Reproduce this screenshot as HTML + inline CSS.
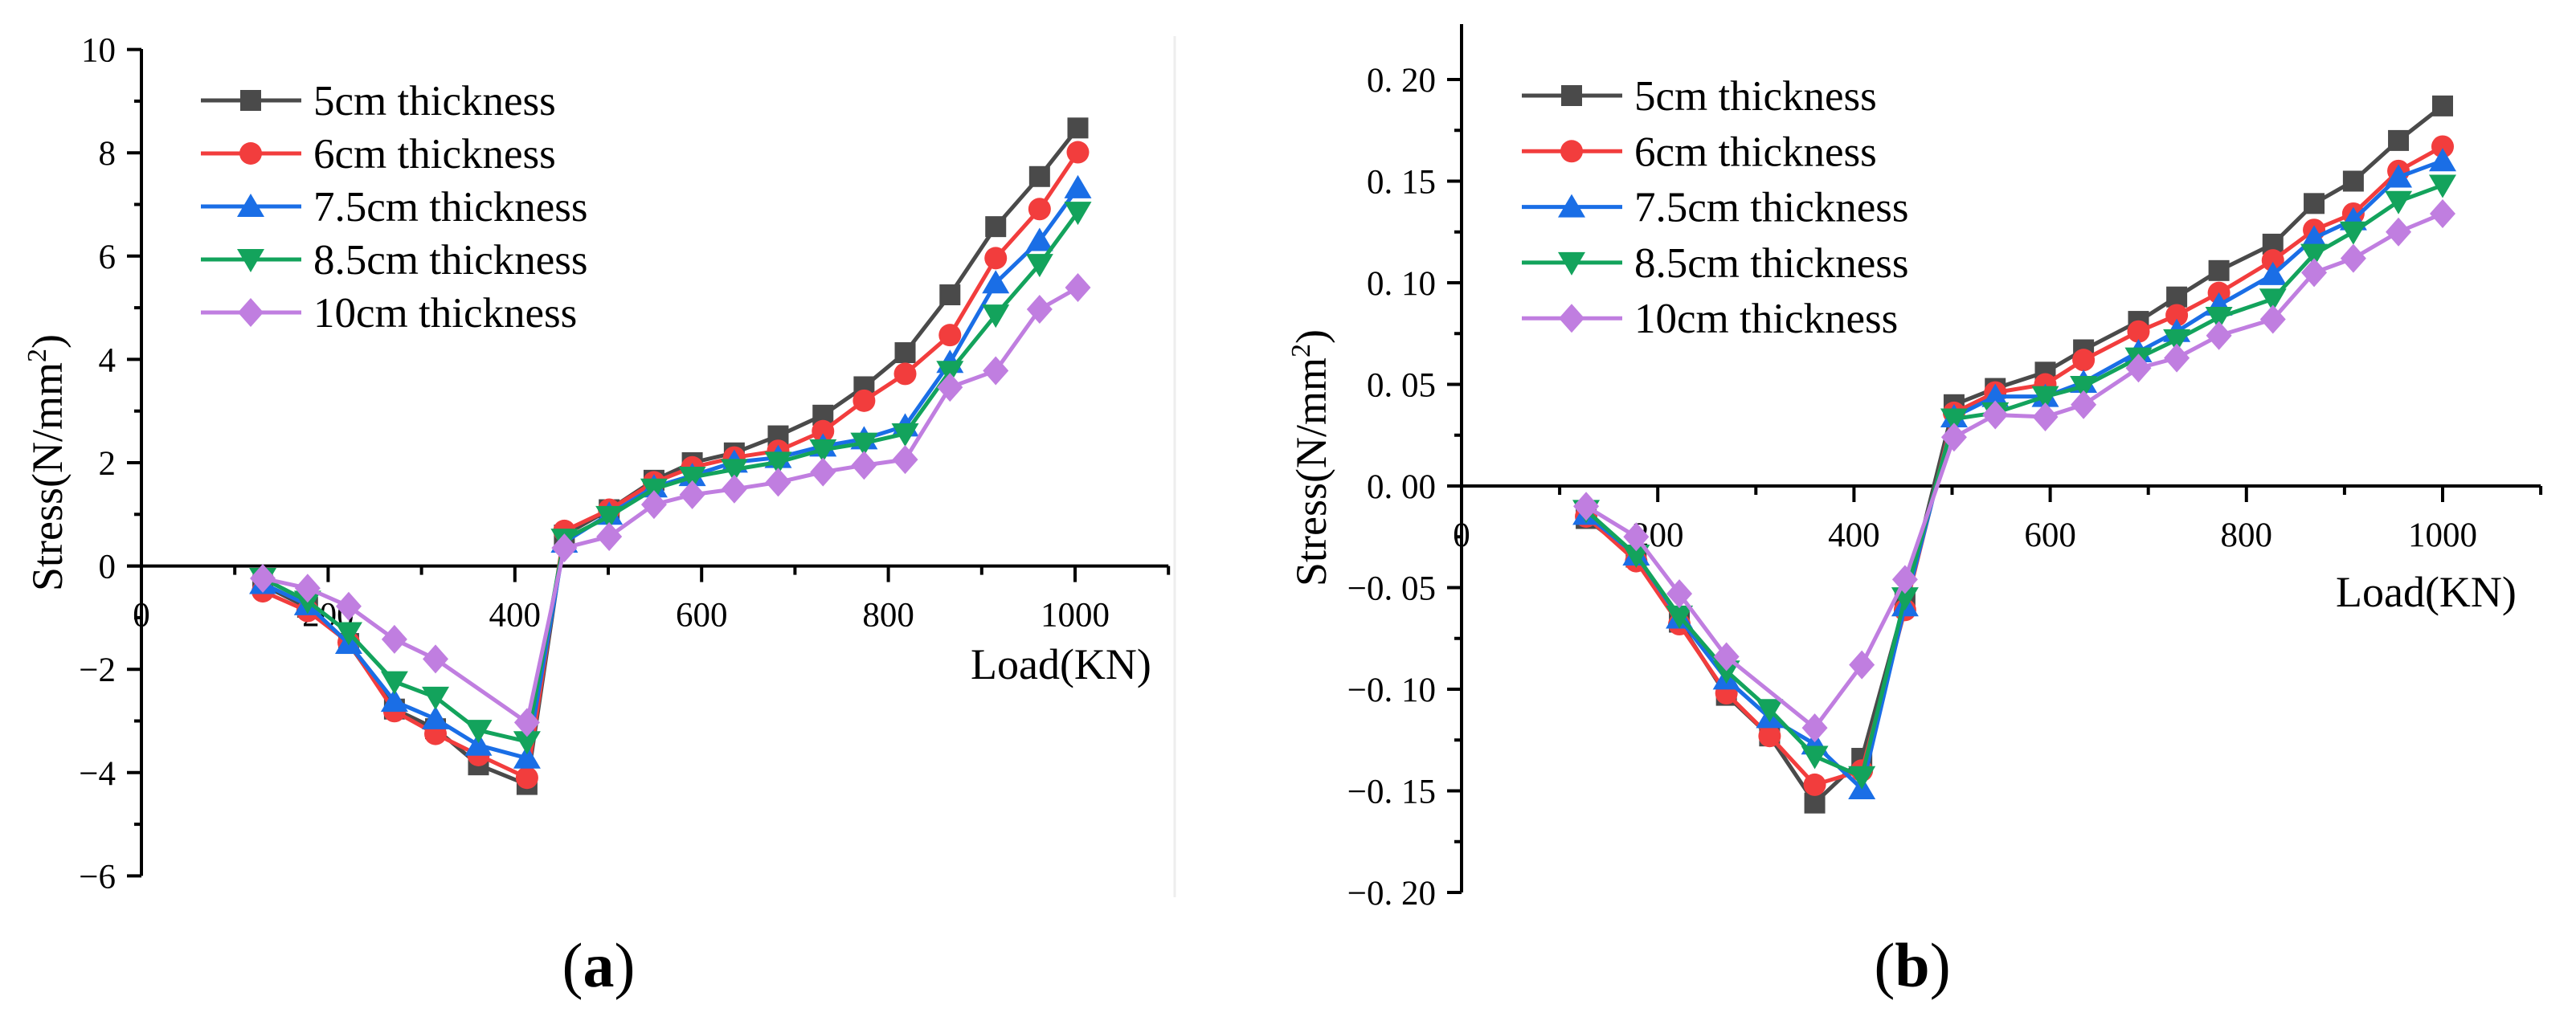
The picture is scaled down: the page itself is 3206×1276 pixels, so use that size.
<!DOCTYPE html>
<html><head><meta charset="utf-8"><style>
html,body{margin:0;padding:0;background:#fff;}
svg{display:block;font-family:"Liberation Serif",serif;}
</style></head><body>
<svg id="fig" width="3206" height="1276" viewBox="0 0 3206 1276" xmlns="http://www.w3.org/2000/svg">
<rect width="3206" height="1276" fill="#fff"/>
<line x1="1462" y1="45" x2="1462" y2="1117" stroke="#eeeeee" stroke-width="3"/>
</svg>
<script>
// ---- Panel (a) data ----
const loadA = [130,178,222,271,315,361,413,453,501,549,590,635,682,730,774,818,866,915,962,1003];
const a5  = [-0.37,-0.80,-1.50,-2.77,-3.15,-3.85,-4.23,0.60,1.09,1.66,2.00,2.19,2.52,2.92,3.47,4.13,5.25,6.57,7.54,8.48];
const a6  = [-0.49,-0.87,-1.48,-2.81,-3.25,-3.66,-4.10,0.68,1.09,1.62,1.91,2.10,2.23,2.61,3.20,3.72,4.47,5.96,6.91,8.01];
const a75 = [-0.34,-0.75,-1.50,-2.62,-2.96,-3.47,-3.72,0.46,1.00,1.53,1.75,2.01,2.10,2.32,2.46,2.71,3.94,5.48,6.30,7.32];
const a85 = [-0.24,-0.68,-1.29,-2.24,-2.54,-3.18,-3.40,0.52,0.96,1.49,1.72,1.87,2.01,2.25,2.38,2.56,3.77,4.86,5.84,6.85];
const a10 = [-0.24,-0.43,-0.78,-1.42,-1.80,null,-3.03,0.35,0.57,1.19,1.38,1.49,1.62,1.82,1.95,2.06,3.46,3.78,4.97,5.39];
const yTicksA = [-6,-4,-2,0,2,4,6,8,10];
const xTicks = [0,200,400,600,800,1000];
// ---- Panel (b) data ----
const loadB = [127,178,222,270,314,360,408,452,502,544,595,634,690,729,772,827,869,909,955,1000];
const b5  = [-0.016,-0.035,-0.067,-0.103,-0.123,-0.156,-0.134,-0.057,0.040,0.048,0.056,0.067,0.081,0.093,0.106,0.119,0.139,0.150,0.170,0.187];
const b6  = [-0.015,-0.037,-0.068,-0.102,-0.123,-0.147,-0.140,-0.061,0.036,0.046,0.050,0.062,0.076,0.084,0.095,0.111,0.126,0.134,0.155,0.167];
const b75 = [-0.014,-0.034,-0.065,-0.095,-0.114,-0.127,-0.149,-0.059,0.034,0.044,0.044,0.051,0.066,0.076,0.089,0.104,0.122,0.131,0.152,0.160];
const b85 = [-0.012,-0.034,-0.064,-0.091,-0.110,-0.133,-0.143,-0.055,0.033,0.036,0.044,0.049,0.063,0.072,0.083,0.092,0.114,0.125,0.140,0.148];
const b10 = [-0.010,-0.025,-0.053,-0.084,null,-0.119,-0.088,-0.046,0.024,0.035,0.034,0.040,0.058,0.063,0.074,0.082,0.105,0.112,0.125,0.134];
const yTicksB = [-0.20,-0.15,-0.10,-0.05,0.00,0.05,0.10,0.15,0.20];
const yTickLabelsB = ["\u22120. 20","\u22120. 15","\u22120. 10","\u22120. 05","0. 00","0. 05","0. 10","0. 15","0. 20"];
const seriesNames = ["5cm thickness","6cm thickness","7.5cm thickness","8.5cm thickness","10cm thickness"];
const colors = ["#4a4a4a","#f23d3d","#1a6ee6","#13a35c","#c07ee0"];
const shapes = ["square","circle","up","down","diamond"];

const NS = "http://www.w3.org/2000/svg";
const svg = document.getElementById('fig');
function mk(tag, attrs, parent){
  const e = document.createElementNS(NS, tag);
  for (const k in attrs) e.setAttribute(k, attrs[k]);
  (parent||svg).appendChild(e);
  return e;
}
function marker(g, shape, x, y, c){
  let e;
  const s = 13;
  if (shape==="square") e = mk('rect',{x:x-s,y:y-s,width:2*s,height:2*s,fill:c},g);
  else if (shape==="circle") e = mk('circle',{cx:x,cy:y,r:s+1,fill:c},g);
  else if (shape==="up") e = mk('polygon',{points:`${x},${y-16} ${x+17},${y+13} ${x-17},${y+13}`,fill:c},g);
  else if (shape==="down") e = mk('polygon',{points:`${x},${y+16} ${x+17},${y-13} ${x-17},${y-13}`,fill:c},g);
  else e = mk('polygon',{points:`${x},${y-18} ${x+16},${y} ${x},${y+18} ${x-16},${y}`,fill:c},g);
  
  
  return e;
}

function panel(P){
  const g = mk('g',{});
  
  
  const X = v => P.x0 + v*P.kx;
  const Y = v => P.y0 - v*P.ky;
  const ya = mk('line',{x1:P.x0,y1:P.top,x2:P.x0,y2:Y(P.ymin),stroke:'#000','stroke-width':4},g);
  
  
  const xa = mk('line',{x1:P.x0-18,y1:P.y0,x2:X(1100),y2:P.y0,stroke:'#000','stroke-width':4},g);
  
  
  P.yt.forEach((v,i)=>{
    mk('line',{x1:P.x0-18,y1:Y(v),x2:P.x0,y2:Y(v),stroke:'#000','stroke-width':4},g);
    if (i<P.yt.length-1){
      const m=(v+P.yt[i+1])/2;
      mk('line',{x1:P.x0-9,y1:Y(m),x2:P.x0,y2:Y(m),stroke:'#000','stroke-width':4},g);
    }
    const t = mk('text',{x:P.x0-32,y:Y(v)+15,'text-anchor':'end','font-size':43,fill:'#000'},g);
    t.textContent = P.ytl[i];
    
    
  });
  for (let v=100; v<=1100; v+=100){
    const major = v%200===0;
    mk('line',{x1:X(v),y1:P.y0,x2:X(v),y2:P.y0+(major?20:11),stroke:'#000','stroke-width':4},g);
  }
  xTicks.forEach(v=>{
    const t = mk('text',{x:X(v),y:P.y0+75,'text-anchor':'middle','font-size':43,fill:'#000'},g);
    t.textContent = String(v);
    
    
  });
  P.series.forEach((d,si)=>{
    const sg = mk('g',{},g);
    
    
    const pts = [];
    d.forEach((v,i)=>{ if (v!==null) pts.push([X(P.load[i]),Y(v)]); });
    const pl = mk('polyline',{points:pts.map(p=>p.join(',')).join(' '),fill:'none',stroke:colors[si],'stroke-width':5,'stroke-linejoin':'round'},sg);
    
    
    pts.forEach(p=>marker(sg,shapes[si],p[0],p[1],colors[si]));
  });
  const lg = mk('g',{},g);
  
  
  seriesNames.forEach((n,i)=>{
    const y = P.legY + i*P.legDy;
    const eg = mk('g',{},lg);
    
    
    mk('line',{x1:P.legX,y1:y,x2:P.legX+125,y2:y,stroke:colors[i],'stroke-width':5},eg);
    marker(eg,shapes[i],P.legX+62,y,colors[i]);
    const t = mk('text',{x:P.legX+140,y:y+18,'font-size':53,fill:'#000'},eg);
    t.textContent = n;
  });
  const xt = mk('text',{x:P.xlabX,y:P.xlabY,'font-size':54,fill:'#000'},g);
  xt.textContent = 'Load(KN)';
  
  
  const yt = mk('text',{transform:`translate(${P.ylabX},${P.ylabY}) rotate(-90)`,'text-anchor':'middle','font-size':54,fill:'#000'},g);
  yt.innerHTML = 'Stress(N/mm<tspan dy="-20" font-size="34">2</tspan><tspan dy="20">)</tspan>';
  
  
  const cap = mk('text',{x:P.capX,y:1228,'text-anchor':'middle','font-size':78,fill:'#000'},g);
  cap.innerHTML = '(<tspan font-weight="bold">' + P.cap + '</tspan>)';
  
  
}

panel({id:'panel-a', x0:176, kx:1.162, y0:704.6, ky:64.3, top:61, ymin:-6,
  yt:yTicksA, ytl:yTicksA.map(v=>v<0?'\u2212'+(-v):String(v)), load:loadA,
  series:[a5,a6,a75,a85,a10], legX:250, legY:125, legDy:66,
  xlabX:1208, xlabY:845, ylabX:77, ylabY:576, capX:745, cap:'a'});
panel({id:'panel-b', x0:1819, kx:1.221, y0:605, ky:2530, top:30, ymin:-0.2,
  yt:yTicksB, ytl:yTickLabelsB, load:loadB,
  series:[b5,b6,b75,b85,b10], legX:1894, legY:119, legDy:69.3,
  xlabX:2907, xlabY:755, ylabX:1650, ylabY:570, capX:2380, cap:'b'});
</script>
</body></html>
